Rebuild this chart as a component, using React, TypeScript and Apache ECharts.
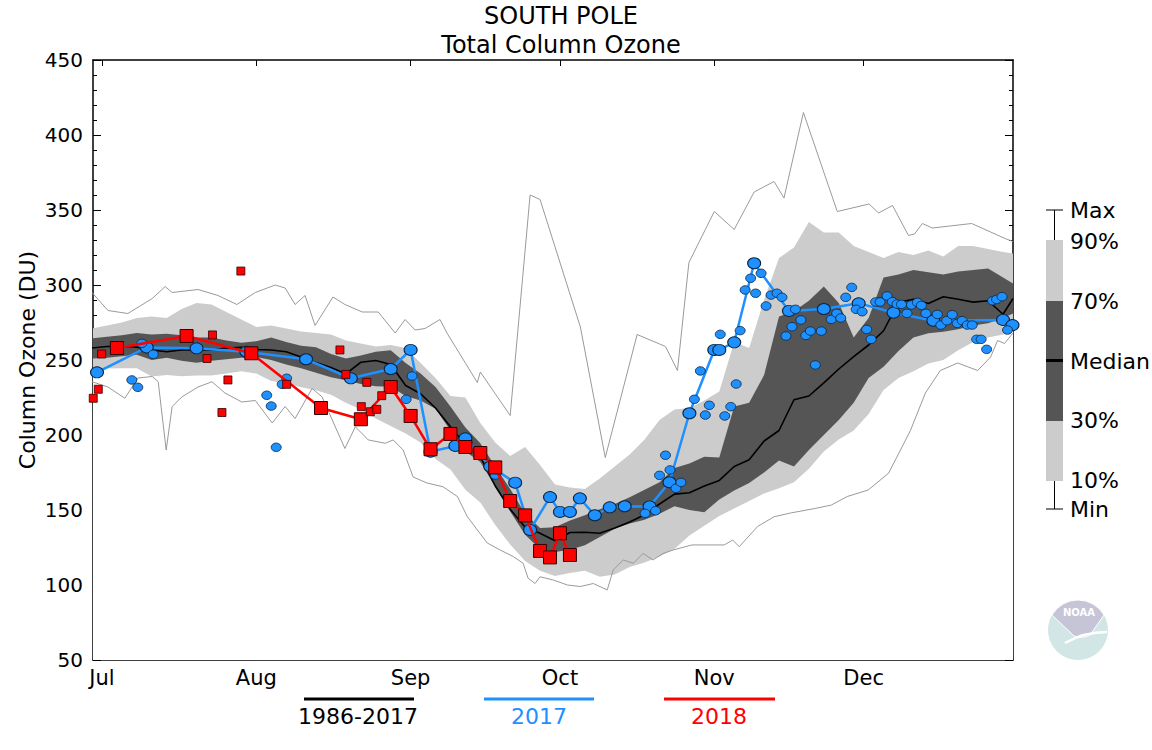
import React, { useEffect, useRef } from 'react';
import * as echarts from 'echarts';

// ---- Climatology bands (1986-2017), day 0 = 1 July ----
const bandDays = [-2, 1, 4, 7, 10, 13, 16, 19, 22, 25, 28, 31, 34, 37, 40, 43, 46, 49, 52, 55, 58, 61, 64, 67, 70, 73, 76, 79, 82, 85, 88, 91, 94, 97, 100, 103, 106, 109, 112, 115, 118, 121, 124, 127, 130, 133, 136, 139, 142, 145, 148, 151, 154, 157, 160, 163, 166, 169, 172, 175, 178, 181, 183];
const p90 = [271, 273, 275, 278, 279, 278, 284, 288, 287, 282, 277, 272, 273, 271, 269, 268, 267, 263, 261, 259, 260, 258, 248, 238, 226, 225, 208, 195, 186, 192, 180, 167, 165, 164, 171, 179, 187, 197, 210, 217, 218, 223, 229, 262, 258, 290, 318, 325, 342, 335, 335, 326, 322, 318, 322, 320, 323, 319, 326, 326, 324, 322, 321];
const p70 = [264.5, 265.5, 266.5, 268, 267, 267.5, 266.5, 265, 265, 263, 261.5, 262.5, 265, 262, 259.5, 258.5, 254, 251, 253, 255.5, 256.5, 248, 241, 232, 219, 205, 194.5, 179, 164, 147.5, 138, 138.5, 143, 146.5, 150.5, 154, 158.5, 163.5, 168.5, 178, 181, 185.5, 185, 219, 221.5, 240, 279, 282.5, 289.5, 299, 288, 265, 278, 305, 307, 310, 308.5, 307, 309, 310, 311, 305, 301];
const median = [258, 259, 259, 258.5, 256.7, 255.5, 256.7, 256.7, 256.7, 258, 258.5, 257, 256.7, 255.5, 252, 248.3, 245, 240.7, 248.5, 249.7, 247, 233, 227.5, 218, 205.5, 193.5, 185.5, 166, 150.5, 138.5, 134.5, 129.5, 135, 135.2, 134.5, 138, 142, 146.8, 154, 160.6, 161.5, 166, 169.7, 179, 183.5, 196, 203, 223.5, 226, 234.7, 244, 252.2, 260, 269.5, 288.5, 290.5, 287.6, 292.2, 290.5, 288.6, 289.5, 280.5, 291];
const p30 = [251, 251.5, 252.5, 253.5, 250, 251.5, 249.5, 248.2, 249.5, 250.5, 251.5, 252, 250, 247, 244.5, 241.5, 238.5, 236.5, 234, 232.5, 232.2, 226, 223, 217.5, 203, 189, 182, 165.5, 149, 133.5, 124, 122, 123.5, 126.5, 132, 137.5, 141, 143.5, 147.5, 152.5, 150, 148.5, 157, 163, 168, 175, 183, 179, 190, 200, 210, 221.5, 238, 245.5, 256, 265, 267.8, 268.9, 270.5, 273, 274.5, 278, 281];
const p10 = [243.3, 244.3, 244.5, 244.5, 239, 240, 239.2, 239.7, 239.7, 241, 242.5, 241, 236, 234.3, 231.8, 229.8, 226.8, 221.5, 217, 211, 206, 201, 195, 184, 177, 163.5, 155, 140, 127, 116, 109.5, 106, 108, 109.5, 105.5, 107, 112, 115, 119, 124, 133, 139.5, 146, 151, 156, 161, 164.5, 168.5, 177.5, 189, 197, 203, 214, 230, 238, 242.5, 247.6, 250, 256.5, 262, 265, 267, 270];

const maxDays = [-2, 1.2, 5.2, 10.1, 12.7, 14.1, 19.3, 23.3, 27.1, 30.8, 34.8, 36.8, 38.8, 40.8, 42.8, 46.4, 48.8, 52.3, 55.5, 58.9, 60.9, 62.9, 64.9, 67.9, 69.3, 75.4, 76.0, 82.0, 86.0, 88.0, 96.1, 101.1, 107.5, 113.2, 115.6, 117.9, 123.0, 127.0, 131.0, 135.0, 137.0, 140.9, 147.7, 154.1, 156.0, 158.8, 162.0, 163.2, 164.8, 166.8, 174.7, 181.4, 183];
const maxVals = [295, 283, 281, 291, 299, 295, 297, 293, 287, 295, 300, 298, 287, 293, 273, 292, 287, 282, 282, 268, 277, 270, 271, 277, 268, 235, 242, 213, 360, 357, 272, 185, 267, 259, 243, 315, 349, 337, 362, 369, 358, 415, 349, 354, 348, 353, 333, 334, 341, 338, 341, 331, 329];

const minDays = [-2, 1.2, 4.6, 7.2, 10.1, 11.3, 12.9, 14.1, 16.1, 19.3, 22.1, 24.7, 28.1, 30.8, 34.2, 36.8, 38.8, 42.2, 44.2, 48.8, 50.9, 53.5, 56.9, 58.5, 60.5, 62.5, 65.3, 68.5, 71.4, 73.4, 75.4, 77.4, 80.0, 82.6, 84.6, 85.6, 87.0, 88.0, 90.7, 93.5, 96.1, 98.7, 101.5, 102.7, 104.7, 106.7, 108.7, 110.7, 112.7, 114.7, 118.5, 125.0, 126.7, 128.0, 131.7, 135.0, 138.3, 143.2, 146.5, 149.7, 153.9, 158.0, 160.4, 162.4, 165.4, 168.4, 171.9, 175.9, 178.5, 179.9, 181.3, 183];
const minVals = [235.5, 232, 224.5, 238, 239, 235.5, 190, 219, 225.5, 232, 235.5, 228, 222, 223, 208, 219, 211, 231, 225.5, 191, 205.5, 196.7, 194.5, 196.7, 190, 172, 168, 165.5, 159, 145.5, 136.7, 128, 123.3, 119, 114.5, 104.5, 101, 105.5, 103.3, 100, 99, 101, 96.7, 110, 116.7, 114.5, 121, 116.7, 121, 123.3, 126.7, 126.7, 130, 125.5, 139, 145.5, 148, 151, 153.3, 159, 163.3, 174.5, 190, 203, 228, 243, 248, 243, 252, 263, 261, 268];

// ---- 2017 ----
const y2017Days = [-1, 9, 19, 29, 41, 50, 58, 62, 66, 71, 73, 78, 83, 86, 90, 92, 94, 96, 99, 102, 105, 110, 114, 118, 123, 124, 127, 131, 138, 145, 152, 159, 167, 181, 182.9];
const y2017Vals = [241.8, 258.4, 257.8, 255.5, 250.5, 237.8, 244, 256.7, 188.9, 192.7, 197.8, 179, 168.2, 136.7, 158.6, 148.7, 148.7, 157.8, 146.5, 151.8, 152.5, 152.4, 168.5, 214.5, 256.7, 256.7, 261.8, 314.5, 282.7, 284, 287.8, 281.6, 276.2, 276.7, 273.3];
const obs2017Days = [8.0, 10.3, 6.0, 7.2, 33.1, 34.0, 35.0, 36.2, 37.1, 61.1, 62.3, 79.0, 109.1, 111.2, 112.0, 113.2, 114.1, 115.3, 116.3, 119.0, 120.2, 121.2, 122.0, 124.2, 125.1, 126.3, 127.4, 128.2, 129.2, 130.3, 131.3, 132.4, 133.4, 134.4, 135.6, 136.6, 137.4, 138.6, 139.3, 140.4, 141.4, 142.3, 143.3, 144.5, 146.5, 147.6, 148.4, 149.4, 150.6, 151.5, 152.7, 153.6, 154.5, 155.4, 156.3, 157.7, 158.8, 159.7, 160.6, 161.7, 162.6, 163.8, 164.6, 165.5, 167.8, 168.5, 169.7, 170.8, 171.8, 172.8, 173.8, 174.8, 175.7, 176.6, 177.7, 178.9, 179.7, 180.8, 181.9];
const obs2017Vals = [261.1, 253.8, 236.7, 231.8, 226.5, 219.3, 191.8, 233.8, 237.8, 223.8, 239.3, 173.3, 147.8, 149.5, 173.1, 186.5, 176.7, 164.5, 168.4, 223.8, 242.7, 213.3, 219.8, 267.1, 212.7, 218.9, 234, 269.6, 296.7, 304.5, 294.5, 307.8, 286, 293.3, 294.5, 291.8, 266, 272.2, 283.8, 276.7, 266.4, 269.3, 246.7, 269.3, 277.1, 281.1, 278, 291.8, 298.4, 283.8, 282.2, 270.4, 263.8, 288.7, 288.7, 292.7, 288.9, 287.3, 287.1, 281.1, 286.7, 288.4, 286.4, 281.1, 280.4, 273.3, 276.2, 280.2, 274.4, 276.2, 273.3, 273.3, 263.8, 263.8, 257.1, 289.5, 290.4, 292.2, 270];

// ---- 2018 ----
const y2018Days = [3, 17, 30, 44, 52, 58, 62, 66, 70, 73, 76, 79, 82, 85, 88, 90, 92, 94];
const y2018Vals = [258, 266, 254.5, 218, 210.5, 232, 212.7, 190.5, 200.7, 192, 188, 178.4, 156, 146.4, 122.7, 118.4, 134.5, 120];
const obs2018Days = [-1.75, -0.74, -0.06, 21.1, 22.2, 24.1, 25.3, 27.9, 37.1, 47.8, 49.0, 52.1, 53.2, 53.9, 55.2, 56.2];
const obs2018Vals = [224.5, 230.5, 254, 251, 266.7, 215, 236.7, 309.3, 233.8, 256.7, 240.4, 218.9, 235.1, 215.5, 217.1, 226.2];

// ---- Axes ----
const monthTicks = [0, 31, 62, 92, 123, 153];
const monthLabels = ['Jul', 'Aug', 'Sep', 'Oct', 'Nov', 'Dec'];
const xMin = -1.8;
const xMax = 183;
const yMin = 50;
const yMax = 450;
const yStep = 50;

const FONT = 'DejaVu Sans';
const BLUE = '#1e90ff';
const RED = '#ff0000';
const LIGHT = '#cccccc';
const DARK = '#555555';

echarts.graphic.registerShape(
  'noaaTop',
  echarts.graphic.extendPath('M -26 -15 A 30 30 0 0 1 26 -15 L 12 5 Q 4 9 -4 6 Z', {})
);

const zip = (a: number[], b: number[]) => a.map((v, i) => [v, b[i]]);

export default function App() {
  const ref = useRef<HTMLDivElement>(null);

  useEffect(() => {
    if (!ref.current) return;
    const chart = echarts.init(ref.current, undefined, { renderer: 'svg' });

    const xAxisBase = {
      type: 'value',
      min: xMin,
      max: xMax,
      splitLine: { show: false },
      axisLine: { show: true, onZero: false, lineStyle: { color: '#000', width: 1.5 } },
      axisTick: { show: true, inside: true, length: 6, customValues: monthTicks, lineStyle: { color: '#000', width: 1 } },
    };
    const yAxisBase = {
      type: 'value',
      min: yMin,
      max: yMax,
      interval: yStep,
      splitLine: { show: false },
      axisLine: { show: true, onZero: false, lineStyle: { color: '#000', width: 1.5 } },
      axisTick: { show: true, inside: true, length: 8, lineStyle: { color: '#000', width: 1 } },
      minorTick: { show: true, splitNumber: 5, length: 4, lineStyle: { color: '#000', width: 1 } },
    };

    // Bands painted as layered areas filled down to the axis bottom:
    // p90 light, p70 dark, p30 light, p10 white.
    const bandArea = (name: string, vals: number[], color: string, z: number) => ({
      name,
      type: 'line',
      data: zip(bandDays, vals),
      symbol: 'none',
      silent: true,
      lineStyle: { width: 0, opacity: 0 },
      areaStyle: { color, opacity: 1, origin: 'start' },
      z,
    });

    const option = {
      animation: false,
      textStyle: { fontFamily: FONT },
      grid: { left: 93, right: 139, top: 60, bottom: 90, containLabel: false, outerBoundsMode: 'none' },
      xAxis: [
        {
          ...xAxisBase,
          position: 'bottom',
          axisLabel: {
            customValues: monthTicks,
            formatter: (v: number) => {
              const i = monthTicks.indexOf(Math.round(v));
              return i >= 0 ? monthLabels[i] : '';
            },
            fontSize: 21,
            color: '#000',
            margin: 7,
            fontFamily: FONT,
          },
        },
        { ...xAxisBase, position: 'top', axisLabel: { show: false } },
      ],
      yAxis: [
        {
          ...yAxisBase,
          position: 'left',
          axisLabel: { fontSize: 20, color: '#000', margin: 10, fontFamily: FONT },
        },
        { ...yAxisBase, position: 'right', axisLabel: { show: false } },
      ],
      series: [
        bandArea('90%', p90, LIGHT, 1),
        bandArea('70%', p70, DARK, 1),
        bandArea('30%', p30, LIGHT, 1),
        bandArea('10%', p10, '#ffffff', 1),
        {
          name: 'Max',
          type: 'line',
          data: zip(maxDays, maxVals),
          symbol: 'none',
          lineStyle: { color: '#9a9a9a', width: 1 },
          z: 2,
        },
        {
          name: 'Min',
          type: 'line',
          data: zip(minDays, minVals),
          symbol: 'none',
          lineStyle: { color: '#9a9a9a', width: 1 },
          z: 2,
        },
        {
          name: 'Median',
          type: 'line',
          data: zip(bandDays, median),
          symbol: 'none',
          lineStyle: { color: '#000', width: 1.6 },
          z: 3,
        },
        {
          name: '2017',
          type: 'line',
          data: zip(y2017Days, y2017Vals),
          symbol: 'circle',
          symbolSize: [13, 11],
          showAllSymbol: true,
          itemStyle: { color: BLUE, borderColor: '#0a2540', borderWidth: 1, opacity: 1 },
          lineStyle: { color: BLUE, width: 2.5 },
          z: 4,
        },
        {
          name: '2017 obs',
          type: 'scatter',
          data: zip(obs2017Days, obs2017Vals),
          symbol: 'circle',
          symbolSize: [10, 8.5],
          itemStyle: { color: BLUE, borderColor: '#0a2540', borderWidth: 0.8, opacity: 1 },
          z: 4,
        },
        {
          name: '2018',
          type: 'line',
          data: zip(y2018Days, y2018Vals),
          symbol: 'rect',
          symbolSize: 13,
          showAllSymbol: true,
          itemStyle: { color: RED, borderColor: '#300', borderWidth: 1, opacity: 1 },
          lineStyle: { color: RED, width: 2.5 },
          z: 5,
        },
        {
          name: '2018 obs',
          type: 'scatter',
          data: zip(obs2018Days, obs2018Vals),
          symbol: 'rect',
          symbolSize: 8,
          itemStyle: { color: RED, borderColor: '#300', borderWidth: 0.8, opacity: 1 },
          z: 5,
        },
      ],
      graphic: [
        { type: 'text', x: 561, y: 16, style: { text: 'SOUTH POLE', fontSize: 24, fontFamily: FONT, fill: '#000', textAlign: 'center', textVerticalAlign: 'middle' } },
        { type: 'text', x: 561, y: 45, style: { text: 'Total Column Ozone', fontSize: 24, fontFamily: FONT, fill: '#000', textAlign: 'center', textVerticalAlign: 'middle' } },
        { type: 'text', x: 27, y: 360, rotation: Math.PI / 2, style: { text: 'Column Ozone (DU)', fontSize: 22, fontFamily: FONT, fill: '#000', textAlign: 'center', textVerticalAlign: 'middle' } },
        // right legend
        { type: 'line', shape: { x1: 1046, y1: 210, x2: 1063, y2: 210 }, style: { stroke: '#000', lineWidth: 1 } },
        { type: 'line', shape: { x1: 1054.5, y1: 210, x2: 1054.5, y2: 240 }, style: { stroke: '#000', lineWidth: 1 } },
        { type: 'rect', shape: { x: 1046, y: 240, width: 17, height: 61 }, style: { fill: LIGHT } },
        { type: 'rect', shape: { x: 1046, y: 301, width: 17, height: 120 }, style: { fill: DARK } },
        { type: 'rect', shape: { x: 1046, y: 421, width: 17, height: 60 }, style: { fill: LIGHT } },
        { type: 'line', shape: { x1: 1046, y1: 360.5, x2: 1063, y2: 360.5 }, style: { stroke: '#000', lineWidth: 3 } },
        { type: 'line', shape: { x1: 1054.5, y1: 481, x2: 1054.5, y2: 509 }, style: { stroke: '#000', lineWidth: 1 } },
        { type: 'line', shape: { x1: 1046, y1: 509, x2: 1063, y2: 509 }, style: { stroke: '#000', lineWidth: 1 } },
        ...[
          ['Max', 210],
          ['90%', 241],
          ['70%', 301],
          ['Median', 361],
          ['30%', 420],
          ['10%', 480],
          ['Min', 509],
        ].map(([t, y]) => ({
          type: 'text',
          x: 1070,
          y: y as number,
          style: { text: t as string, fontSize: 22, fontFamily: FONT, fill: '#000', textAlign: 'left', textVerticalAlign: 'middle' },
        })),
        // bottom legend
        { type: 'line', shape: { x1: 304, y1: 699, x2: 414, y2: 699 }, style: { stroke: '#000', lineWidth: 3 } },
        { type: 'text', x: 358, y: 716, style: { text: '1986-2017', fontSize: 22, fontFamily: FONT, fill: '#000', textAlign: 'center', textVerticalAlign: 'middle' } },
        { type: 'line', shape: { x1: 484, y1: 699, x2: 594, y2: 699 }, style: { stroke: BLUE, lineWidth: 3 } },
        { type: 'text', x: 539, y: 716, style: { text: '2017', fontSize: 22, fontFamily: FONT, fill: BLUE, textAlign: 'center', textVerticalAlign: 'middle' } },
        { type: 'line', shape: { x1: 664, y1: 699, x2: 775, y2: 699 }, style: { stroke: RED, lineWidth: 3 } },
        { type: 'text', x: 719, y: 716, style: { text: '2018', fontSize: 22, fontFamily: FONT, fill: RED, textAlign: 'center', textVerticalAlign: 'middle' } },
        // NOAA logo
        { type: 'circle', shape: { cx: 1078, cy: 630, r: 30 }, style: { fill: '#d3e6e6' } },
        { type: 'noaaTop', x: 1078, y: 630, style: { fill: '#c6c5d8', stroke: '#ffffff', lineWidth: 1 } },
        { type: 'bezierCurve', x: 1078, y: 630, shape: { x1: -13, y1: 13, x2: 29, y2: 2, cpx1: 6, cpy1: 2 }, style: { stroke: '#ffffff', lineWidth: 2.5, fill: null } },
        { type: 'text', x: 1079, y: 612, style: { text: 'NOAA', fontSize: 10, fontWeight: 'bold', fontFamily: FONT, fill: '#ffffff', textAlign: 'center', textVerticalAlign: 'middle' } },
      ],
    };

    chart.setOption(option as any);
    return () => chart.dispose();
  }, []);

  return <div ref={ref} style={{ position: 'fixed', left: 0, top: 0, width: 1152, height: 750, background: '#fff' }} />;
}
